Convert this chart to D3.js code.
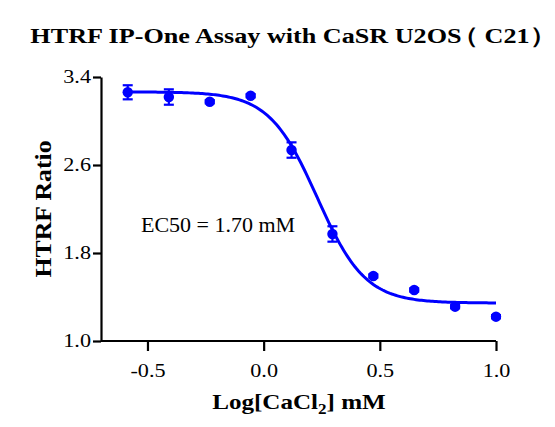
<!DOCTYPE html>
<html>
<head>
<meta charset="utf-8">
<script src="https://cdn.jsdelivr.net/npm/d3@7"></script>
<style>
  body { margin: 0; background: #fff; }
  text { font-family: "Liberation Serif", "Times New Roman", serif; }
</style>
</head>
<body>
<svg id="chart" width="555" height="427"></svg>
<script>
// log10 of CaCl2 concentration (mM)
let logConc = [-0.585, -0.408, -0.232, -0.056, 0.120, 0.296, 0.472, 0.648, 0.824, 1.0];
// mean HTRF ratio
let ratio = [3.261, 3.218, 3.175, 3.230, 2.736, 1.973, 1.591, 1.464, 1.312, 1.221];
// error (SEM)
let sem = [0.064, 0.070, 0.015, 0.015, 0.070, 0.070, 0.015, 0.015, 0.015, 0.015];
// 4PL fit: top, bottom, logEC50, hill slope
let fitParams = [3.265, 1.345, Math.log10(1.70), 4.2];
let xTicks = [-0.5, 0.0, 0.5, 1.0];
let yTicks = [1.0, 1.8, 2.6, 3.4];

let margin = {top: 77, right: 59, bottom: 86, left: 101};
let width = 555, height = 427;
let svg = d3.select("#chart");

let x = d3.scaleLinear([-0.7, 1.0], [margin.left, width - margin.right]);
let y = d3.scaleLinear([1.0, 3.4], [height - margin.bottom, margin.top]);

let blue = "#0000ff";

// title (glyphs in the original are a bit wide)
let title = svg.append("text")
  .attr("transform", "translate(293,43) scale(1.2,1)")
  .attr("text-anchor", "middle")
  .attr("font-size", 21.8)
  .attr("font-weight", "bold");
title.append("tspan").text("HTRF IP-One Assay with CaSR U2OS");
title.append("tspan").attr("dx", -8).text("（ C21）");

// axes
let xAxis = svg.append("g")
  .attr("transform", `translate(0,${height - margin.bottom})`)
  .call(d3.axisBottom(x).tickValues(xTicks).tickFormat(d3.format(".1f")).tickSize(10).tickSizeOuter(0))
xAxis.select(".domain").attr("stroke-width", 2.2).attr("d", `M${margin.left},0H${x(1.0)}`);
xAxis.selectAll(".tick line").attr("stroke-width", 2.2);
xAxis.selectAll(".tick text")
  .attr("font-size", 18.5)
  .attr("font-family", "Liberation Serif")
  .attr("y", null)
  .attr("dy", null)
  .attr("transform", "translate(0,36) scale(1.2,1)")
  .text(d => d < 0 ? "-" + Math.abs(d).toFixed(1) : d.toFixed(1));

let yAxis = svg.append("g")
  .attr("transform", `translate(${margin.left},0)`)
  .call(d3.axisLeft(y).tickValues(yTicks).tickFormat(d3.format(".1f")).tickSize(8).tickSizeOuter(0))
yAxis.select(".domain").attr("stroke-width", 2.2);
yAxis.selectAll(".tick line").attr("stroke-width", 2.2);
yAxis.selectAll(".tick text")
  .attr("font-size", 18.5)
  .attr("font-family", "Liberation Serif")
  .attr("x", null)
  .attr("transform", "translate(-10,0) scale(1.2,1)");

// axis titles
let xt = svg.append("text")
  .attr("transform", "translate(299,409) scale(1.14,1)")
  .attr("text-anchor", "middle")
  .attr("font-size", 22)
  .attr("font-weight", "bold");
xt.append("tspan").text("Log[CaCl");
xt.append("tspan").attr("font-size", 15).attr("dy", 5).text("2");
xt.append("tspan").attr("dy", -5).text("] mM");

svg.append("text")
  .attr("transform", `translate(51,${(y(1.0) + y(3.4)) / 2}) rotate(-90) scale(1.12,1)`)
  .attr("text-anchor", "middle")
  .attr("font-size", 23)
  .attr("font-weight", "bold")
  .text("HTRF Ratio");

// fitted curve
let [fitTop, fitBottom, logEC50, hill] = fitParams;
let fit = v => fitBottom + (fitTop - fitBottom) / (1 + Math.pow(10, (v - logEC50) * hill));
let curveX = d3.range(0, 201).map(i => -0.6 + i * 1.6 / 200);
svg.append("path")
  .datum(curveX)
  .attr("fill", "none")
  .attr("stroke", blue)
  .attr("stroke-width", 3)
  .attr("d", d3.line().x(d => x(d)).y(d => y(fit(d))));

// error bars
let pts = logConc.map((d, i) => ({x: d, y: ratio[i], e: sem[i]}));
let eb = svg.append("g").attr("stroke", blue).attr("stroke-width", 2.2);
eb.selectAll("line.v")
  .data(pts)
  .join("line")
  .attr("class", "v")
  .attr("x1", d => x(d.x)).attr("x2", d => x(d.x))
  .attr("y1", d => y(d.y - d.e)).attr("y2", d => y(d.y + d.e));
eb.selectAll("line.cap-top")
  .data(pts)
  .join("line")
  .attr("class", "cap-top")
  .attr("x1", d => x(d.x) - 5).attr("x2", d => x(d.x) + 5)
  .attr("y1", d => y(d.y + d.e)).attr("y2", d => y(d.y + d.e));
eb.selectAll("line.cap-bot")
  .data(pts)
  .join("line")
  .attr("class", "cap-bot")
  .attr("x1", d => x(d.x) - 5).attr("x2", d => x(d.x) + 5)
  .attr("y1", d => y(d.y - d.e)).attr("y2", d => y(d.y - d.e));

// points
svg.append("g")
  .selectAll("circle")
  .data(pts)
  .join("circle")
  .attr("cx", d => x(d.x))
  .attr("cy", d => y(d.y))
  .attr("r", 5.2)
  .attr("fill", blue);

// EC50 label
svg.append("text")
  .attr("transform", "translate(141,232) scale(1.1,1)")
  .attr("font-size", 20)
  .text("EC50 = 1.70 mM");
</script>
</body>
</html>
